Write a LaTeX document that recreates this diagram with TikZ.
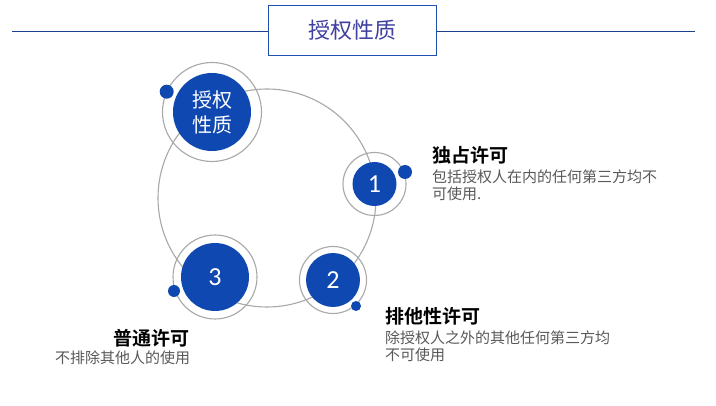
\documentclass[tikz,border=0pt]{standalone}
\usepackage{fontspec}
\setmainfont{Noto Sans CJK SC}
\newfontfamily\cjkb{Noto Sans CJK SC}[BoldFont={* Bold}]
\newfontfamily\numfont{Carlito}
\definecolor{mainblue}{RGB}{14,72,176}
\definecolor{framblue}{RGB}{34,80,176}
\definecolor{titlec}{RGB}{64,64,160}
\definecolor{ringgray}{RGB}{168,168,168}
\definecolor{descgray}{RGB}{89,89,89}
\tikzset{
  bluedisc/.style={circle, fill=mainblue, inner sep=0pt, text=white, minimum size=#1},
  ringc/.style={circle, draw=ringgray, line width=1.1pt, inner sep=0pt, minimum size=#1},
  dotc/.style={circle, fill=mainblue, inner sep=0pt, minimum size=#1},
  headc/.style={anchor=west, inner sep=0pt, font=\fontsize{19pt}{21pt}\selectfont\bfseries, text=black},
  descc/.style={anchor=north west, inner sep=0pt, align=left, font=\fontsize{15pt}{17pt}\selectfont, text=descgray},
}
\begin{document}
\begin{tikzpicture}[x=1pt,y=-1pt]
\useasboundingbox[fill=white] (0,0) rectangle (716,406);
% title
\node[draw=framblue, line width=1.1pt, minimum width=168pt, minimum height=50pt, inner sep=0pt,
      font=\fontsize{22pt}{24pt}\selectfont, text=titlec] (title) at (352.5,30.4) {授权性质};
\coordinate (ll) at (12,31.7);
\coordinate (rr) at (695,31.7);
\draw[framblue!80!black, line width=0.9pt] (ll) -- (ll -| title.west);
\draw[framblue!80!black, line width=0.9pt] (title.east |- rr) -- (rr);
% big circle
\node[circle, draw=ringgray, line width=1.1pt, minimum size=218pt, inner sep=0pt] (big) at (267,198) {};
% rings
\node[ringc=99pt] (r0) at (212,112) {};
\node[ringc=63pt] (r1) at (374.5,184) {};
\node[ringc=67pt] (r2) at (333,280) {};
\node[ringc=84pt] (r3) at (215,277) {};
% blue discs
\node[bluedisc=78pt, align=center, font=\fontsize{20pt}{25pt}\selectfont] (c0) at (212,112) {授权\\性质};
\node[bluedisc=44pt, font=\numfont\fontsize{26pt}{28pt}\selectfont] (c1) at (374.5,184) {1};
\node[bluedisc=54pt, font=\numfont\fontsize{26pt}{28pt}\selectfont] (c2) at (333,280) {2};
\node[bluedisc=68pt, font=\numfont\fontsize{26pt}{28pt}\selectfont] (c3) at (215,277) {3};
% dots
\node[dotc=14pt] (d0) at (166.7,91.7) {};
\node[dotc=14pt] (d1) at (405,172) {};
\node[dotc=10pt] (d2) at (356,306) {};
\node[dotc=12pt] (d3) at (174,291) {};
% labels
\node[headc] (h1) at (432,155) {\cjkb\bfseries 独占许可};
\node[descc] (t1) at (432,170) {包括授权人在内的任何第三方均不\\可使用.};
\node[headc] (h2) at (385,316) {\cjkb\bfseries 排他性许可};
\node[descc] (t2) at (385,331) {除授权人之外的其他任何第三方均\\不可使用};
\node[headc] (h3) at (113,338) {\cjkb\bfseries 普通许可};
\node[descc] (t3) at (55,351) {不排除其他人的使用};
\end{tikzpicture}
\end{document}
